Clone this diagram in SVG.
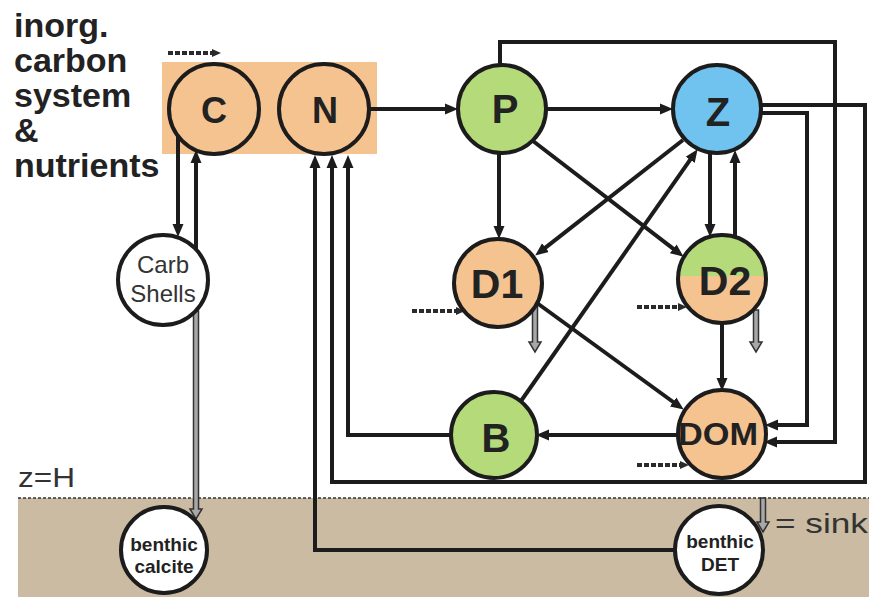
<svg xmlns="http://www.w3.org/2000/svg" width="869" height="597" viewBox="0 0 869 597">
<style>
.node{stroke:#1c1c1c;stroke-width:4}
.or{fill:#f5c390}.gr{fill:#b5da7a}.bl{fill:#6fc3ee}.wh{fill:#ffffff}
.lb{font-family:"Liberation Sans",Arial,sans-serif;font-weight:bold;fill:#222;text-anchor:middle}
.sm{font-family:"Liberation Sans",Arial,sans-serif;fill:#333;text-anchor:middle}
.ln{fill:none;stroke:#1c1c1c;stroke-width:4}
.arr{marker-end:url(#ah)}
.dsh{fill:none;stroke:#2a2a2a;stroke-width:4;stroke-dasharray:5 2;marker-end:url(#ahs)}
.sink{fill:#a8a8a8;stroke:#333;stroke-width:1.5}
</style>
<defs>
<marker id="ah" markerUnits="userSpaceOnUse" markerWidth="13" markerHeight="12" refX="6" refY="6" orient="auto">
<path d="M0,0.5 L13,6 L0,11.5 z" fill="#1c1c1c"/>
</marker>
<marker id="ahs" markerUnits="userSpaceOnUse" markerWidth="9" markerHeight="9" refX="3" refY="4.5" orient="auto">
<path d="M0,0.5 L9,4.5 L0,8.5 z" fill="#2a2a2a"/>
</marker>
<clipPath id="topclip"><rect x="670" y="230" width="110" height="46"/></clipPath>
</defs>

<rect width="869" height="597" fill="#ffffff"/>
<g id="sediment">
<rect x="18" y="498" width="851" height="99" fill="#cbbba2"/>
<line x1="18" y1="498" x2="869" y2="498" stroke="#333" stroke-width="1.5" stroke-dasharray="3 2"/>
<text x="18" y="487" font-family="'Liberation Sans',Arial,sans-serif" font-size="27" fill="#333" textLength="57" lengthAdjust="spacingAndGlyphs">z=H</text>
</g>

<g id="title" font-family="'Liberation Sans',Arial,sans-serif" font-weight="bold" font-size="34" fill="#222">
<text x="14" y="37">inorg.</text>
<text x="14" y="72">carbon</text>
<text x="14" y="107">system</text>
<text x="14" y="142">&amp;</text>
<text x="14" y="177">nutrients</text>
</g>

<rect id="inorg-box" x="162" y="62" width="215" height="92" fill="#f5c390"/>

<g id="connectors">
<line class="ln arr" x1="369" y1="109" x2="451" y2="109"/>
<line class="ln arr" x1="546" y1="109" x2="666" y2="109"/>
<line class="ln arr" x1="499" y1="153" x2="499" y2="232"/>
<line class="ln arr" x1="533" y1="141" x2="678" y2="252.4"/>
<line class="ln arr" x1="683" y1="140" x2="540.7" y2="251.3"/>
<line class="ln arr" x1="521" y1="401" x2="693.6" y2="154.9"/>
<line class="ln arr" x1="710" y1="152" x2="710" y2="230"/>
<line class="ln arr" x1="735" y1="237" x2="735" y2="157"/>
<line class="ln arr" x1="537" y1="303" x2="678" y2="405.5"/>
<line class="ln arr" x1="722" y1="323" x2="722" y2="384"/>
<line class="ln arr" x1="678" y1="435" x2="543" y2="435"/>
<path class="ln arr" d="M760,113 H807 V425 H772"/>
<path class="ln arr" d="M500,65 V42 H835 V442 H771"/>
<path class="ln arr" d="M760,105 H865 V482 H332 V162"/>
<path class="ln arr" d="M451,435 H348 V162"/>
<path class="ln arr" d="M674,550 H315 V162"/>
<line class="ln arr" x1="178" y1="136" x2="178" y2="230"/>
<line class="ln arr" x1="196" y1="249" x2="196" y2="157"/>
<polygon class="sink" points="193.5,311 193.5,509 190,509 196,519 202,509 198.5,509 198.5,311"/>
<polygon class="sink" points="532.5,306 532.5,342 529,342 535,352 541,342 537.5,342 537.5,306"/>
<polygon class="sink" points="753.5,310 753.5,342 750,342 756,352 762,342 758.5,342 758.5,310"/>
<line class="dsh" x1="168" y1="53" x2="215" y2="53"/>
<line class="dsh" x1="412" y1="311" x2="459" y2="311"/>
<line class="dsh" x1="637" y1="307" x2="681" y2="307"/>
<line class="dsh" x1="637" y1="465" x2="683" y2="465"/>
</g>

<g id="legend">
<polygon class="sink" points="760.5,498 760.5,522 757,522 763,532 769,522 765.5,522 765.5,498"/>
<text x="775" y="533" font-family="'Liberation Sans',Arial,sans-serif" font-size="28" fill="#333" textLength="93" lengthAdjust="spacingAndGlyphs">= sink</text>
</g>

<g id="C"><circle class="node or" cx="214" cy="109" r="45"/><text class="lb" x="214" y="123" font-size="36">C</text></g>
<g id="N"><circle class="node or" cx="324" cy="109" r="45"/><text class="lb" x="325" y="123" font-size="36">N</text></g>
<g id="P"><circle class="node gr" cx="502" cy="109" r="44"/><text class="lb" x="505" y="123" font-size="40">P</text></g>
<g id="Z"><circle class="node bl" cx="717" cy="109" r="44"/><text class="lb" x="718" y="126" font-size="40">Z</text></g>
<g id="D1"><circle class="node or" cx="498" cy="283" r="44"/><text class="lb" x="497" y="298" font-size="41">D1</text></g>
<g id="D2"><circle class="or" cx="722" cy="279" r="44"/><circle class="gr" cx="722" cy="279" r="44" clip-path="url(#topclip)"/><circle cx="722" cy="279" r="44" fill="none" stroke="#1c1c1c" stroke-width="4"/><text class="lb" x="725" y="295" font-size="41">D2</text></g>
<g id="B"><circle class="node gr" cx="494" cy="435" r="43"/><text class="lb" x="496" y="452" font-size="40">B</text></g>
<g id="DOM"><circle class="node or" cx="722" cy="434" r="44"/><text class="lb" x="718" y="445" font-size="31" textLength="80" lengthAdjust="spacingAndGlyphs">DOM</text></g>
<g id="CarbShells"><circle class="node wh" cx="163" cy="280" r="45"/><text class="sm" x="163" y="273" font-size="24">Carb</text><text class="sm" x="163" y="302" font-size="24">Shells</text></g>
<g id="benthicCalcite"><circle class="node wh" cx="164" cy="550" r="43"/><text class="lb" x="164" y="551" font-size="19">benthic</text><text class="lb" x="164" y="573" font-size="19">calcite</text></g>
<g id="benthicDET"><circle class="node wh" cx="719" cy="550" r="44"/><text class="lb" x="720" y="548" font-size="19">benthic</text><text class="lb" x="720" y="571" font-size="19">DET</text></g>
</svg>
